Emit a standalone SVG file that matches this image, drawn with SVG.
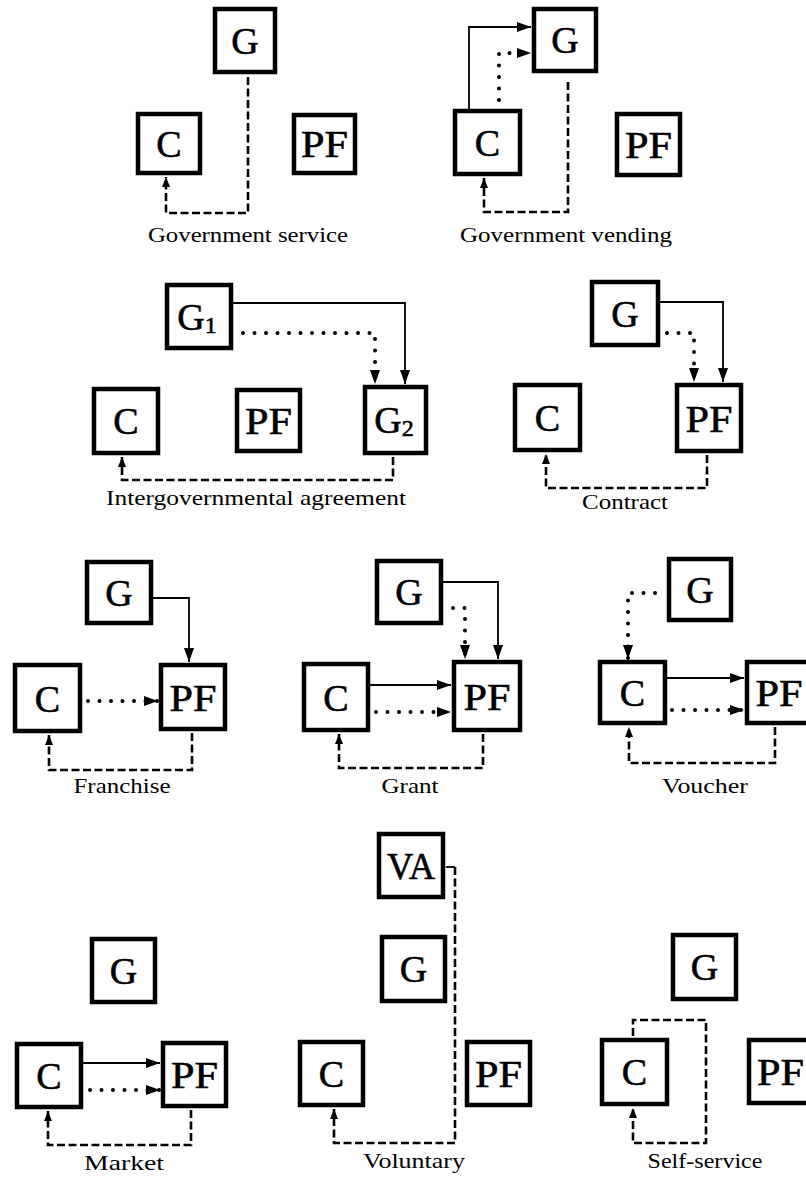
<svg xmlns="http://www.w3.org/2000/svg" width="806" height="1177" viewBox="0 0 806 1177">
<style>
.box rect{fill:#fff;stroke:#000;stroke-width:4.5}
.box text{font-family:"Liberation Serif",serif;font-size:38px;text-anchor:middle;fill:#000;stroke:#000;stroke-width:0.6}
.cap{font-family:"Liberation Serif",serif;font-size:21px;text-anchor:middle;fill:#000}
.solid{fill:none;stroke:#000;stroke-width:1.8}
.dash{fill:none;stroke:#000;stroke-width:2.6;stroke-dasharray:8 3.5}
.dot{fill:none;stroke:#000;stroke-width:4;stroke-linecap:round;stroke-dasharray:0 11.5}
</style>
<defs>
<marker id="ah" markerUnits="userSpaceOnUse" markerWidth="15" markerHeight="11" refX="14" refY="5.5" orient="auto"><path d="M0,0.5 L14,5.5 L0,10.5 z" fill="#000"/></marker>
<marker id="ahs" markerUnits="userSpaceOnUse" markerWidth="11" markerHeight="9" refX="10" refY="4.5" orient="auto"><path d="M0,0.5 L10,4.5 L0,8.5 z" fill="#000"/></marker>
</defs>
<rect width="806" height="1177" fill="#fff"/>

<g id="connectors">
<path class="dash" d="M248,77 V213 H166 V177" marker-end="url(#ahs)"/>
<path class="solid" d="M469,109 V27 H531" marker-end="url(#ah)"/>
<path class="dot" d="M499,100 V53 H531" marker-end="url(#ah)"/>
<path class="dash" d="M568,82 V212 H484 V178" marker-end="url(#ahs)"/>
<path class="solid" d="M233,303 H405 V384" marker-end="url(#ah)"/>
<path class="dot" d="M243,333 H375 V384" marker-end="url(#ah)"/>
<path class="dash" d="M393,457 V480 H122 V457" marker-end="url(#ahs)"/>
<path class="solid" d="M660,302 H723 V382" marker-end="url(#ah)"/>
<path class="dot" d="M667,333 H694 V382" marker-end="url(#ah)"/>
<path class="dash" d="M707,455 V488 H546 V454" marker-end="url(#ahs)"/>
<path class="solid" d="M153,598 H189 V662" marker-end="url(#ah)"/>
<path class="dot" d="M88,701 H158" marker-end="url(#ah)"/>
<path class="dash" d="M192,733 V770 H49 V735" marker-end="url(#ahs)"/>
<path class="solid" d="M443,582 H498 V659" marker-end="url(#ah)"/>
<path class="dot" d="M453,608 H465 V659" marker-end="url(#ah)"/>
<path class="solid" d="M370,685 H451" marker-end="url(#ah)"/>
<path class="dot" d="M376,712 H451" marker-end="url(#ah)"/>
<path class="dash" d="M483,734 V768 H339 V734" marker-end="url(#ahs)"/>
<path class="dot" d="M655,593 H628 V659" marker-end="url(#ah)"/>
<path class="solid" d="M667,678 H744" marker-end="url(#ah)"/>
<path class="dot" d="M672,710 H744" marker-end="url(#ah)"/>
<path class="dash" d="M775,727 V763 H629 V727" marker-end="url(#ahs)"/>
<path class="solid" d="M83,1063 H160" marker-end="url(#ah)"/>
<path class="dot" d="M90,1090 H160" marker-end="url(#ah)"/>
<path class="dash" d="M191,1110 V1145 H48 V1111" marker-end="url(#ahs)"/>
<path class="solid" d="M446,867 H455"/>
<path class="dash" d="M455,867 V1143 H334 V1109" marker-end="url(#ahs)"/>
<path class="dash" d="M633,1036 V1020 H706 V1143 H633 V1108" marker-end="url(#ahs)"/>
</g>

<g id="p1-G" class="box"><rect x="215" y="9" width="60" height="63"/><text x="245" y="54">G</text></g>
<g id="p1-C" class="box"><rect x="138" y="114" width="62" height="59"/><text x="169" y="157">C</text></g>
<g id="p1-PF" class="box"><rect x="294" y="115" width="61" height="58"/><text x="324.5" y="157" textLength="47" lengthAdjust="spacingAndGlyphs">PF</text></g>
<g id="p2-G" class="box"><rect x="534" y="9" width="62" height="62"/><text x="565" y="53">G</text></g>
<g id="p2-C" class="box"><rect x="455" y="111" width="65" height="63"/><text x="487.5" y="156">C</text></g>
<g id="p2-PF" class="box"><rect x="617" y="114" width="63" height="61"/><text x="648.5" y="158" textLength="47" lengthAdjust="spacingAndGlyphs">PF</text></g>
<g id="p3-G1" class="box"><rect x="167" y="285" width="64" height="63"/><text x="197" y="330">G<tspan font-size="24" dy="3">1</tspan></text></g>
<g id="p3-C" class="box"><rect x="94" y="389" width="64" height="64"/><text x="126" y="434">C</text></g>
<g id="p3-PF" class="box"><rect x="237" y="390" width="63" height="61"/><text x="268.5" y="434" textLength="47" lengthAdjust="spacingAndGlyphs">PF</text></g>
<g id="p3-G2" class="box"><rect x="365" y="387" width="61" height="66"/><text x="394" y="433">G<tspan font-size="24" dy="3">2</tspan></text></g>
<g id="p4-G" class="box"><rect x="592" y="282" width="66" height="63"/><text x="625" y="327">G</text></g>
<g id="p4-C" class="box"><rect x="515" y="385" width="65" height="65"/><text x="547.5" y="431">C</text></g>
<g id="p4-PF" class="box"><rect x="677" y="385" width="64" height="66"/><text x="709" y="432" textLength="47" lengthAdjust="spacingAndGlyphs">PF</text></g>
<g id="p5-G" class="box"><rect x="87" y="562" width="64" height="61"/><text x="119" y="606">G</text></g>
<g id="p5-C" class="box"><rect x="15" y="665" width="65" height="66"/><text x="47.5" y="712">C</text></g>
<g id="p5-PF" class="box"><rect x="161" y="665" width="64" height="64"/><text x="193" y="711" textLength="47" lengthAdjust="spacingAndGlyphs">PF</text></g>
<g id="p6-G" class="box"><rect x="377" y="561" width="64" height="62"/><text x="409" y="605">G</text></g>
<g id="p6-C" class="box"><rect x="304" y="664" width="64" height="66"/><text x="336" y="711">C</text></g>
<g id="p6-PF" class="box"><rect x="454" y="662" width="66" height="68"/><text x="487" y="710" textLength="47" lengthAdjust="spacingAndGlyphs">PF</text></g>
<g id="p7-G" class="box"><rect x="669" y="559" width="62" height="61"/><text x="700" y="603">G</text></g>
<g id="p7-C" class="box"><rect x="600" y="662" width="65" height="61"/><text x="632.5" y="706">C</text></g>
<g id="p7-PF" class="box"><rect x="747" y="662" width="64" height="61"/><text x="779" y="706" textLength="47" lengthAdjust="spacingAndGlyphs">PF</text></g>
<g id="p8-G" class="box"><rect x="92" y="939" width="63" height="63"/><text x="123.5" y="984">G</text></g>
<g id="p8-C" class="box"><rect x="17" y="1044" width="64" height="63"/><text x="49" y="1089">C</text></g>
<g id="p8-PF" class="box"><rect x="163" y="1043" width="63" height="63"/><text x="194.5" y="1088" textLength="47" lengthAdjust="spacingAndGlyphs">PF</text></g>
<g id="p9-VA" class="box"><rect x="379" y="834" width="64" height="63"/><text x="411" y="879" textLength="48" lengthAdjust="spacingAndGlyphs">VA</text></g>
<g id="p9-G" class="box"><rect x="382" y="937" width="63" height="64"/><text x="413.5" y="982">G</text></g>
<g id="p9-C" class="box"><rect x="300" y="1042" width="63" height="63"/><text x="331.5" y="1087">C</text></g>
<g id="p9-PF" class="box"><rect x="467" y="1042" width="63" height="63"/><text x="498.5" y="1087" textLength="47" lengthAdjust="spacingAndGlyphs">PF</text></g>
<g id="p10-G" class="box"><rect x="673" y="935" width="63" height="64"/><text x="704.5" y="980">G</text></g>
<g id="p10-C" class="box"><rect x="602" y="1040" width="65" height="64"/><text x="634.5" y="1085">C</text></g>
<g id="p10-PF" class="box"><rect x="749" y="1040" width="63" height="63"/><text x="780.5" y="1085" textLength="47" lengthAdjust="spacingAndGlyphs">PF</text></g>

<g id="captions">
<text class="cap" x="248" y="242" textLength="200" lengthAdjust="spacingAndGlyphs">Government service</text>
<text class="cap" x="566" y="242" textLength="212" lengthAdjust="spacingAndGlyphs">Government vending</text>
<text class="cap" x="256" y="505" textLength="300" lengthAdjust="spacingAndGlyphs">Intergovernmental agreement</text>
<text class="cap" x="625" y="509" textLength="86" lengthAdjust="spacingAndGlyphs">Contract</text>
<text class="cap" x="122" y="793" textLength="97" lengthAdjust="spacingAndGlyphs">Franchise</text>
<text class="cap" x="410" y="793" textLength="57" lengthAdjust="spacingAndGlyphs">Grant</text>
<text class="cap" x="705" y="793" textLength="86" lengthAdjust="spacingAndGlyphs">Voucher</text>
<text class="cap" x="124" y="1170" textLength="80" lengthAdjust="spacingAndGlyphs">Market</text>
<text class="cap" x="414" y="1168" textLength="102" lengthAdjust="spacingAndGlyphs">Voluntary</text>
<text class="cap" x="705" y="1168" textLength="115" lengthAdjust="spacingAndGlyphs">Self-service</text>
</g>
</svg>
